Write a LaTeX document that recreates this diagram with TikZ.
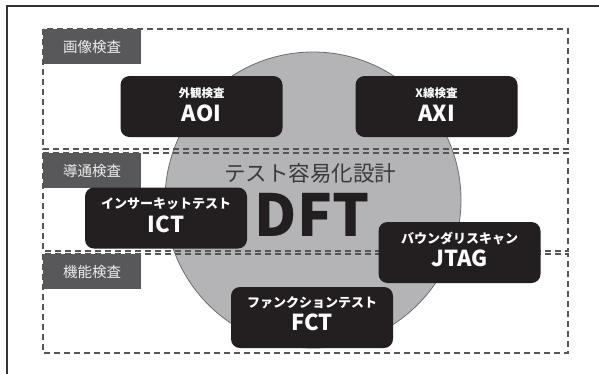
\documentclass[tikz,border=0pt]{standalone}
\usepackage{fontspec}
\newfontfamily\jp{Noto Sans CJK JP}
\definecolor{framec}{HTML}{333333}
\definecolor{dashc}{HTML}{555555}
\definecolor{tabc}{HTML}{58585A}
\definecolor{blkc}{HTML}{231F20}
\definecolor{circc}{HTML}{B4B4B6}
\definecolor{circl}{HTML}{6E6E70}
\definecolor{midtext}{HTML}{3A3A3A}
\tikzset{
  dbox/.style={draw=dashc, line width=1.3pt, dash pattern=on 6pt off 4pt},
  tab/.style={fill=tabc, text=white!92!black, minimum width=98pt, minimum height=35pt, inner sep=0pt, anchor=north west, font=\jp\fontsize{14.5}{16}\selectfont},
  blk/.style={fill=blkc, rounded corners=9pt, minimum width=162pt, minimum height=61pt, inner sep=0pt},
  subt/.style={text=white, inner sep=0pt, font=\jp\bfseries\fontsize{13}{15}\selectfont},
  subs/.style={text=white, inner sep=0pt, font=\jp\bfseries\fontsize{11.5}{13}\selectfont},
  maint/.style={text=white, inner sep=0pt, font=\jp\bfseries\fontsize{22}{24}\selectfont},
}
\begin{document}
\begin{tikzpicture}[x=1pt,y=-1pt]
\useasboundingbox (0,0) rectangle (599,373);
% outer frame
\coordinate (fbl) at (7,380);
\coordinate (ftl) at (7,6);
\coordinate (ftr) at (605,6);
\draw[framec, line width=2pt] (fbl) -- (ftl) -- (ftr);
% circle
\node[circle, fill=circc, draw=circl, line width=0.8pt, minimum size=296pt, inner sep=0pt] (circ) at (313,200) {};
\node[text=midtext, inner sep=0pt, font=\jp\fontsize{21.5}{24}\selectfont] (dftj) at (310,173) {テスト容易化設計};
\node[text=blkc, inner sep=0pt, font=\jp\bfseries\fontsize{58}{60}\selectfont] (dft) at (312,215) {DFT};
% dashed boxes
\coordinate (b1a) at (43,29); \coordinate (b1b) at (568,149);
\coordinate (b2a) at (43,153); \coordinate (b2b) at (568,251);
\coordinate (b3a) at (43,254); \coordinate (b3b) at (568,353);
\draw[dbox] (b1a) rectangle (b1b);
\draw[dbox] (b2a) rectangle (b2b);
\draw[dbox] (b3a) rectangle (b3b);
% tabs
\node[tab] (t1) at (b1a) {画像検査};
\node[tab] (t2) at (b2a) {導通検査};
\node[tab] (t3) at (b3a) {機能検査};
% black boxes
\node[blk] (aoi) at (201.5,106.5) {};
\node[subs] (aois) at ([yshift=13.5pt]aoi.center) {外観検査};
\node[maint] (aoim) at ([yshift=-6.5pt]aoi.center) {AOI};
\node[blk] (axi) at (436.5,106.5) {};
\node[subs] (axis) at ([yshift=13.5pt]axi.center) {X線検査};
\node[maint] (axim) at ([yshift=-6.5pt]axi.center) {AXI};
\node[blk] (ict) at (166,218) {};
\node[subt] (icts) at ([yshift=14pt]ict.center) {インサーキットテスト};
\node[maint] (ictm) at ([yshift=-6pt]ict.center) {ICT};
\node[blk] (jtag) at (459.5,252.5) {};
\node[subt] (jtags) at ([yshift=14pt]jtag.center) {バウンダリスキャン};
\node[maint] (jtagm) at ([yshift=-6pt]jtag.center) {JTAG};
\node[blk] (fct) at (312,317.5) {};
\node[subt] (fcts) at ([yshift=15pt]fct.center) {ファンクションテスト};
\node[maint] (fctm) at ([yshift=-5pt]fct.center) {FCT};
\end{tikzpicture}
\end{document}
